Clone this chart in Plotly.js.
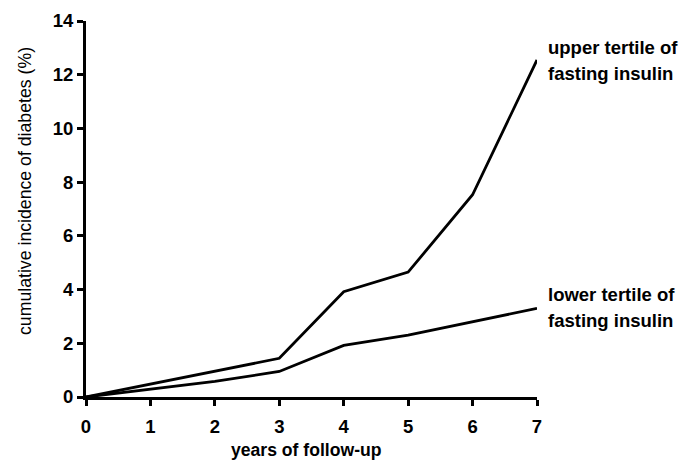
<!DOCTYPE html>
<html>
<head>
<meta charset="utf-8">
<script src="https://cdn.plot.ly/plotly-3.0.1.min.js"></script>
<style>html,body{margin:0;padding:0;background:#fff;}#chart{width:683px;height:460px;}</style>
</head>
<body>
<div id="chart"></div>
<script>
var years = [0, 1, 2, 3, 4, 5, 6, 7];
var upperTertile = [0, 0.48, 0.96, 1.44, 3.92, 4.65, 7.53, 12.55];
var lowerTertile = [0, 0.29, 0.58, 0.95, 1.92, 2.3, 2.8, 3.3];
var xTicks = [0, 1, 2, 3, 4, 5, 6, 7];
var yTicks = [0, 2, 4, 6, 8, 10, 12, 14];
var upperLabelLines = ["upper tertile of", "fasting insulin"];
var lowerLabelLines = ["lower tertile of", "fasting insulin"];
var xTitle = "years of follow-up";
var yTitle = "cumulative incidence of diabetes (%)";

var FONT = "Liberation Sans, Arial, sans-serif";
var lineStyle = {color: "#000", width: 2.8};

var traces = [
  {x: years, y: upperTertile, mode: "lines", line: lineStyle, hoverinfo: "skip"},
  {x: years, y: lowerTertile, mode: "lines", line: lineStyle, hoverinfo: "skip"}
];

var W = 683, H = 460, ML = 86, MR = 146, MT = 21, MB = 63;
var plotW = W - ML - MR, plotH = H - MT - MB;
function px2paperY(py) { return (H - MB - py) / plotH; }
function px2paperX(px) { return (px - ML) / plotW; }

var labelFont = {family: FONT, size: 18.5, color: "#000", weight: "bold"};
var annotations = [];
function addLines(lines, topCenterPx, gap) {
  lines.forEach(function (t, i) {
    annotations.push({xref: "paper", yref: "paper", x: px2paperX(546), y: px2paperY(topCenterPx + i * gap),
      xanchor: "left", yanchor: "middle", align: "left", text: t, showarrow: false, font: labelFont});
  });
}
addLines(upperLabelLines, 47, 26);
addLines(lowerLabelLines, 294, 26);
annotations.push({xref: "paper", yref: "paper", x: px2paperX(306), y: px2paperY(450), xanchor: "center", yanchor: "middle",
  text: xTitle, showarrow: false, font: {family: FONT, size: 17.6, color: "#000", weight: "bold"}});
annotations.push({xref: "paper", yref: "paper", x: px2paperX(25), y: px2paperY(191), xanchor: "center", yanchor: "middle", textangle: -90,
  text: yTitle, showarrow: false, font: {family: FONT, size: 17.7, color: "#000"}});

var tickFont = {family: FONT, size: 18.5, color: "#000", weight: "bold"};
var layout = {
  width: W, height: H,
  margin: {l: ML, r: MR, t: MT, b: MB},
  paper_bgcolor: "#fff", plot_bgcolor: "#fff",
  showlegend: false,
  font: {family: FONT, color: "#000"},
  xaxis: {
    range: [0, 7], tickvals: xTicks, ticktext: xTicks.map(String),
    showgrid: false, zeroline: false, showline: true, linecolor: "#000", linewidth: 3,
    ticks: "outside", ticklen: 6, tickwidth: 3, tickcolor: "#000",
    tickfont: tickFont, ticklabelstandoff: 5,
    fixedrange: true
  },
  yaxis: {
    range: [0, 14], tickvals: yTicks, ticktext: yTicks.map(String),
    showgrid: false, zeroline: false, showline: true, linecolor: "#000", linewidth: 3,
    ticks: "outside", ticklen: 6, tickwidth: 3, tickcolor: "#000",
    tickfont: tickFont,
    fixedrange: true
  },
  annotations: annotations
};

Plotly.newPlot("chart", traces, layout, {displayModeBar: false, staticPlot: true});
</script>
</body>
</html>
